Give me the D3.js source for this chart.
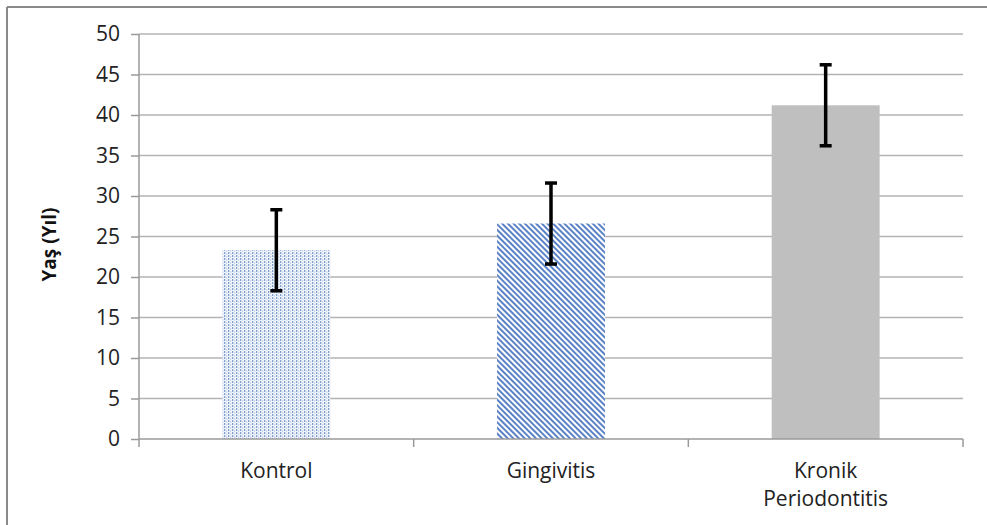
<!DOCTYPE html>
<html><head><meta charset="utf-8">
<script src="https://cdn.jsdelivr.net/npm/d3@7"></script>
<style>body{margin:0;background:#fff}svg{display:block}</style>
</head><body>
<svg id="c" width="987" height="525"></svg>
<script>
const categories = ["Kontrol", "Gingivitis", "Kronik Periodontitis"];
const means = [23.3, 26.6, 41.2];
const errors = [5.0, 5.0, 5.0];
const yTicks = [0, 5, 10, 15, 20, 25, 30, 35, 40, 45, 50];
const yTitle = "Yaş (Yıl)";

const svg = d3.select("#c");
const font = "'Open Sans', sans-serif";
const m = {left: 139, right: 963, top: 34, bottom: 439};

// chart border (top and left visible)
svg.append("line").attr("x1", 7).attr("x2", 987).attr("y1", 7).attr("y2", 7).attr("stroke", "#8a8a8a").attr("stroke-width", 2);
svg.append("line").attr("x1", 7).attr("x2", 7).attr("y1", 7).attr("y2", 525).attr("stroke", "#8a8a8a").attr("stroke-width", 2);

const defs = svg.append("defs");
const p1 = defs.append("pattern").attr("id", "dots").attr("patternUnits", "userSpaceOnUse").attr("width", 4).attr("height", 3);
p1.append("rect").attr("width", 4).attr("height", 3).attr("fill", "#f4f7fc");
p1.append("rect").attr("x", 0).attr("y", 0).attr("width", 1.3).attr("height", 2).attr("fill", "#7f9fd0");
p1.append("rect").attr("x", 2).attr("y", 1.5).attr("width", 1.3).attr("height", 1).attr("fill", "#a9bfe3");
const p2 = defs.append("pattern").attr("id", "stripes").attr("patternUnits", "userSpaceOnUse").attr("width", 4).attr("height", 4).attr("patternTransform", "rotate(-45)");
p2.append("rect").attr("width", 4).attr("height", 4).attr("fill", "#ffffff");
p2.append("rect").attr("x", 0).attr("y", 0).attr("width", 2).attr("height", 4).attr("fill", "#5a82c4");
const fills = ["url(#dots)", "url(#stripes)", "#bfbfbf"];

const x = d3.scaleBand().domain(categories).range([m.left, m.right]).padding(0);
const y = d3.scaleLinear().domain([0, 50]).range([m.bottom, m.top]);

// gridlines
svg.append("g").selectAll("line").data(yTicks.filter(d => d > 0)).join("line")
  .attr("x1", m.left).attr("x2", m.right)
  .attr("y1", d => y(d)).attr("y2", d => y(d))
  .attr("stroke", "#b3b3b3").attr("stroke-width", 1.5);

// y axis
const ya = svg.append("g").attr("transform", `translate(${m.left},0)`)
  .call(d3.axisLeft(y).tickValues(yTicks).tickSize(8).tickPadding(11));
ya.select(".domain").attr("stroke", "#9a9a9a").attr("stroke-width", 1.5).attr("d", `M0,${m.top}V${m.bottom}`);
ya.selectAll(".tick line").attr("stroke", "#9a9a9a").attr("stroke-width", 1.5);
ya.selectAll(".tick text").attr("font-family", font).attr("font-size", 21).attr("fill", "#222");

// bars
const bw = x.bandwidth() * 0.393;
svg.append("g").selectAll("rect").data(categories).join("rect")
  .attr("x", d => x(d) + x.bandwidth() / 2 - bw / 2)
  .attr("width", bw)
  .attr("y", (d, i) => y(means[i]))
  .attr("height", (d, i) => y(0) - y(means[i]))
  .attr("fill", (d, i) => fills[i]);

// x axis
const xa = svg.append("g").attr("transform", `translate(0,${m.bottom})`);
xa.append("line").attr("x1", m.left).attr("x2", m.right).attr("stroke", "#9a9a9a").attr("stroke-width", 1.5);
const bounds = categories.map(d => x(d)).concat([m.right]);
xa.selectAll(".xt").data(bounds).join("line").attr("class", "xt")
  .attr("x1", d => d).attr("x2", d => d).attr("y1", 0).attr("y2", 8)
  .attr("stroke", "#9a9a9a").attr("stroke-width", 1.5);
const lbl = xa.selectAll(".xl").data(categories).join("text").attr("class", "xl")
  .attr("x", d => x(d) + x.bandwidth() / 2)
  .attr("text-anchor", "middle")
  .attr("font-family", font).attr("font-size", 21).attr("fill", "#222");
lbl.each(function(d) {
  const words = d.split(" ");
  const t = d3.select(this);
  if (d === "Kronik Periodontitis") {
    words.forEach((w, i) => t.append("tspan").attr("x", x(d) + x.bandwidth() / 2).attr("y", 39 + i * 28).text(w));
  } else {
    t.attr("y", 39).text(d);
  }
});

// error bars
const eb = svg.append("g").attr("stroke", "#000").attr("stroke-width", 3.5);
categories.forEach((c, i) => {
  const cx = x(c) + x.bandwidth() / 2;
  eb.append("line").attr("x1", cx).attr("x2", cx).attr("y1", y(means[i] - errors[i])).attr("y2", y(means[i] + errors[i]));
  [means[i] - errors[i], means[i] + errors[i]].forEach(v => {
    eb.append("line").attr("x1", cx - 6).attr("x2", cx + 6).attr("y1", y(v)).attr("y2", y(v));
  });
});

// y title
svg.append("text").attr("transform", `translate(56,${(m.top + m.bottom) / 2 + 8}) rotate(-90)`)
  .attr("text-anchor", "middle").attr("font-family", font).attr("font-weight", "bold")
  .attr("font-size", 19).attr("fill", "#111").text(yTitle);
</script>
</body></html>
